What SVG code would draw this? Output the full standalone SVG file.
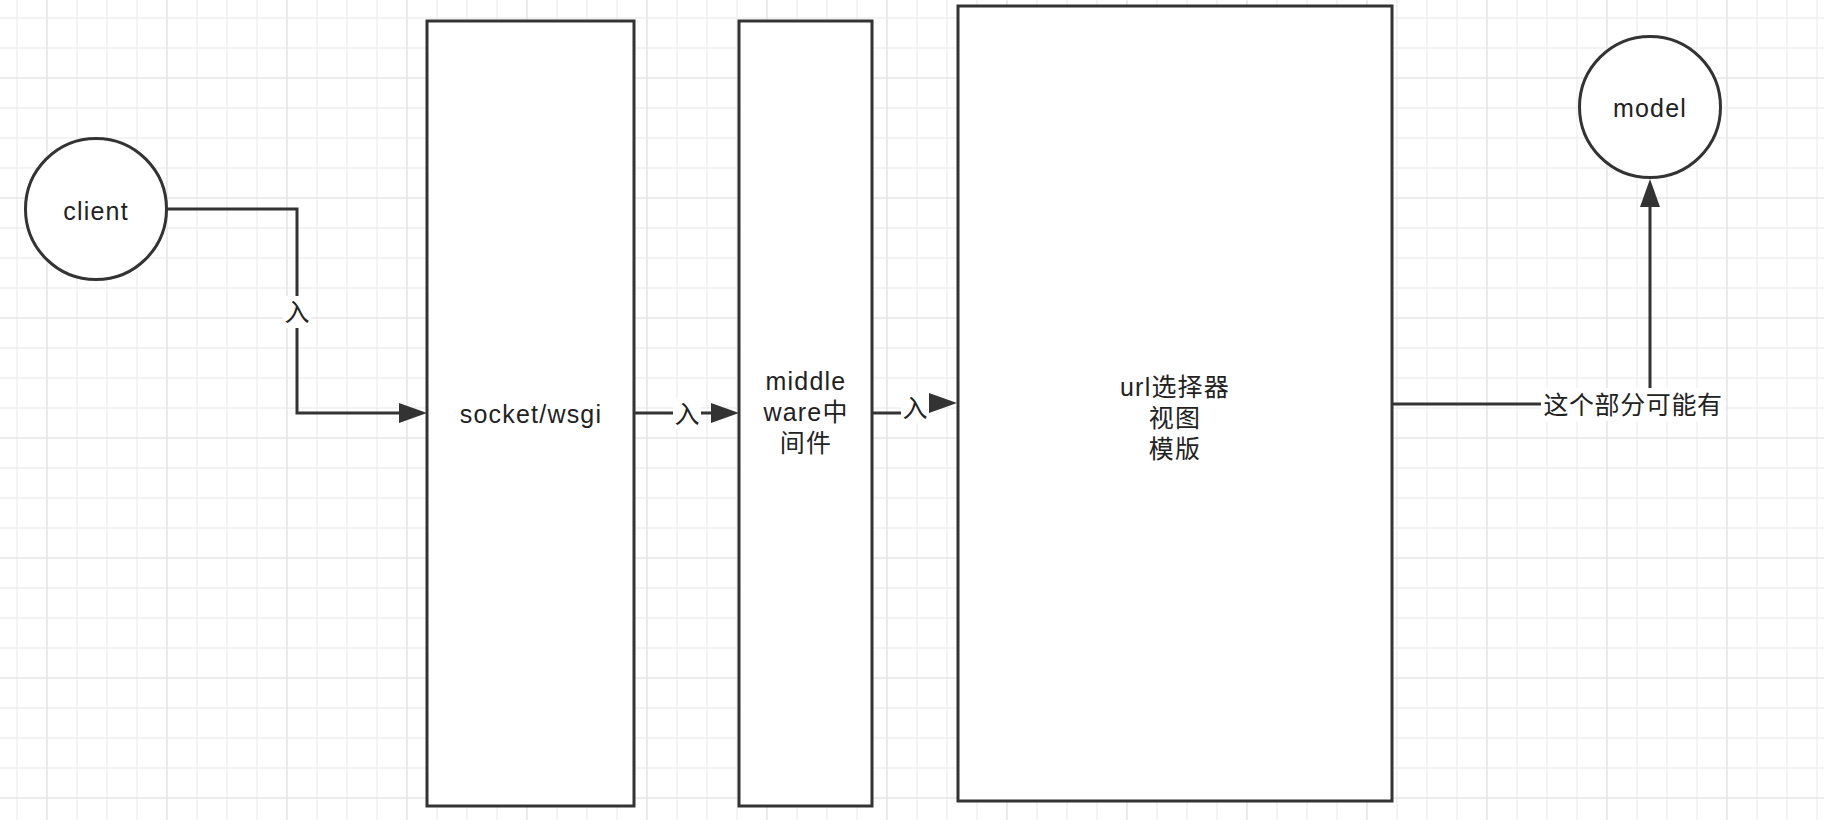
<svg xmlns="http://www.w3.org/2000/svg" width="1824" height="820" viewBox="0 0 1824 820">
  <style>
    .shape { fill: #ffffff; stroke: #333333; stroke-width: 3; }
    .edge { fill: none; stroke: #333333; stroke-width: 3; }
    .txt { font-family: "Liberation Sans", "Noto Sans CJK SC", sans-serif; font-size: 25px; fill: #222222; text-anchor: middle; letter-spacing: 1.2px; }
    .lbl { font-family: "Liberation Sans", "Noto Sans CJK SC", sans-serif; font-size: 25px; fill: #222222; text-anchor: middle; }
    .lblbg { fill: #ffffff; stroke: none; }
  </style>
  <defs>
    <pattern id="grid" patternUnits="userSpaceOnUse" x="32" y="63" width="120" height="120">
      <path d="M45,0 V120 M75,0 V120 M105,0 V120 M0,45 H120 M0,75 H120 M0,105 H120" stroke="#efefef" stroke-width="1.4" fill="none"/>
      <path d="M15,0 V120 M0,15 H120" stroke="#e6e6e6" stroke-width="1.6" fill="none"/>
    </pattern>
    <marker id="arrow" markerUnits="userSpaceOnUse" markerWidth="30" markerHeight="22" refX="8" refY="10" orient="auto">
      <path d="M0,0 L28,10 L0,20 z" fill="#333333"/>
    </marker>
  </defs>

  <rect x="0" y="0" width="1824" height="820" fill="#ffffff"/>
  <rect x="0" y="0" width="1824" height="820" fill="url(#grid)"/>

  <g id="connectors">
    <path class="edge" d="M166,209 H297 V413 H407" marker-end="url(#arrow)"/>
    <path class="edge" d="M634,413 H719" marker-end="url(#arrow)"/>
    <path class="edge" d="M872,413 H915 V403 H937" marker-end="url(#arrow)"/>
    <path class="edge" d="M1392,404 H1650 V199" marker-end="url(#arrow)"/>
    <rect class="lblbg" x="283" y="296" width="28" height="32"/>
    <text class="lbl" x="297" y="321">入</text>
    <rect class="lblbg" x="673" y="399" width="28" height="30"/>
    <text class="lbl" x="687" y="423">入</text>
    <rect class="lblbg" x="901" y="393" width="28" height="30"/>
    <text class="lbl" x="915" y="417">入</text>
    <rect class="lblbg" x="1541" y="388" width="184" height="33"/>
    <text class="lbl" x="1633" y="414" letter-spacing="0.6">这个部分可能有</text>
  </g>

  <g id="client">
    <circle class="shape" cx="96" cy="209" r="70.5"/>
    <text class="txt" x="96" y="220">client</text>
  </g>

  <g id="socket">
    <rect class="shape" x="427" y="21" width="207" height="785"/>
    <text class="txt" x="531" y="423">socket/wsgi</text>
  </g>

  <g id="middleware">
    <rect class="shape" x="739" y="21" width="133" height="785"/>
    <text class="txt" x="806" y="390">middle</text>
    <text class="txt" x="806" y="421">ware中</text>
    <text class="txt" x="806" y="452">间件</text>
  </g>

  <g id="url">
    <rect class="shape" x="958" y="6" width="434" height="795"/>
    <text class="txt" x="1175" y="396">url选择器</text>
    <text class="txt" x="1175" y="427">视图</text>
    <text class="txt" x="1175" y="458">模版</text>
  </g>

  <g id="model">
    <circle class="shape" cx="1650" cy="107" r="70.5"/>
    <text class="txt" x="1650" y="117">model</text>
  </g>
</svg>
